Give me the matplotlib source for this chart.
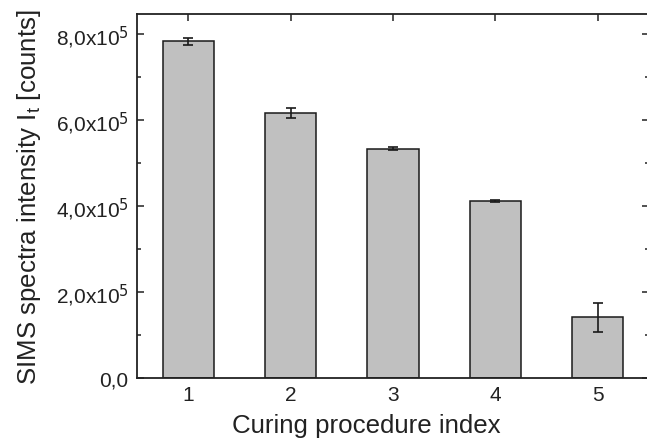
import matplotlib
matplotlib.use("Agg")
import matplotlib.pyplot as plt
import numpy as np
from matplotlib.ticker import FuncFormatter, MultipleLocator

plt.rcParams['font.family'] = ['Liberation Sans', 'DejaVu Sans']
plt.rcParams['mathtext.fontset'] = 'custom'
plt.rcParams['mathtext.rm'] = 'Liberation Sans'
plt.rcParams['mathtext.it'] = 'Liberation Sans'
plt.rcParams['mathtext.default'] = 'regular'

# data
procedure = [1, 2, 3, 4, 5]
intensity = [7.84e5, 6.17e5, 5.33e5, 4.12e5, 1.41e5]
intensity_err = [8.0e3, 1.1e4, 3.5e3, 2.5e3, 3.4e4]
ytick_values = [0, 2e5, 4e5, 6e5, 8e5]

fig = plt.figure(figsize=(6.47, 4.39), dpi=100)
ax = fig.add_axes([0.2117, 0.1367, 0.7915, 0.8291])

ax.bar(procedure, intensity, width=0.5, color='#c0c0c0', edgecolor='#1a1a1a',
       linewidth=1.1, zorder=2)
ax.errorbar(procedure, intensity, yerr=intensity_err, fmt='none', ecolor='#1a1a1a',
            elinewidth=1.2, capsize=3.5, capthick=1.2, zorder=3)

ax.set_xlim(0.5, 5.5)
ax.set_ylim(0, 8.47e5)
ax.set_xticks(procedure)
ax.set_yticks(ytick_values)
ax.yaxis.set_minor_locator(MultipleLocator(1e5))


def fmt(v, pos):
    if v == 0:
        return '0,0'
    return f'{v / 1e5:.0f},0x10$^{{\\mathsf{{5}}}}$'


ax.yaxis.set_major_formatter(FuncFormatter(fmt))

ax.tick_params(axis='both', which='both', direction='in', top=True, right=True,
               labelsize=15, colors='#222222')
ax.tick_params(axis='x', which='minor', top=False, bottom=False)
ax.tick_params(which='major', length=5, width=1.1)
ax.tick_params(which='minor', length=3, width=1.1)
ax.tick_params(axis='x', pad=5)
ax.tick_params(axis='y', pad=6)
for s in ax.spines.values():
    s.set_linewidth(1.3)
    s.set_color('#222222')

ax.set_xlabel('Curing procedure index', fontsize=18.6, color='#222222', labelpad=5)
ax.xaxis.set_label_coords(0.448, -0.095)
ax.set_ylabel('SIMS spectra intensity I$_t$ [counts]', fontsize=18.6, color='#222222',
              labelpad=9)

fig.savefig('out.png', dpi=100)
